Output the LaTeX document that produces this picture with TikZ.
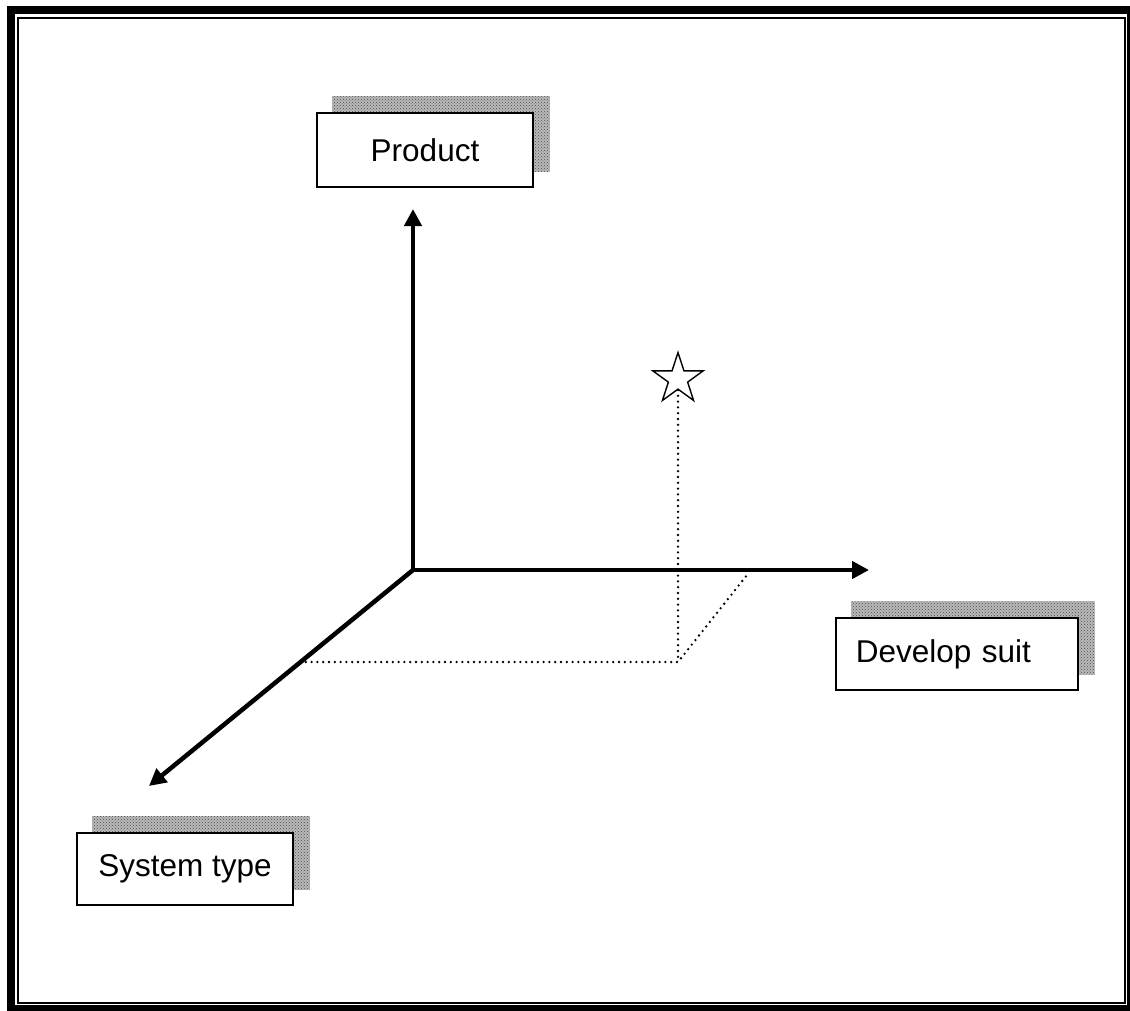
\documentclass[tikz,border=0pt]{standalone}
\usepackage{fontspec}
\setmainfont{Liberation Sans}
\usetikzlibrary{arrows.meta,shapes.geometric,backgrounds,patterns}

\definecolor{shadowgray}{RGB}{185,185,185}

\tikzset{
  axis/.style={line width=4.5pt, -{Triangle[length=17pt,width=17pt]}},
  guide/.style={line width=2.6pt, line cap=round, dash pattern=on 0pt off 5.8pt},
  labelbox/.style={draw, line width=1.6pt, fill=white, inner sep=0pt,
    font=\fontsize{31.5}{37}\selectfont},
  boxshadow/.style={fill=shadowgray},
  frameouter/.style={line width=8pt},
  frameinner/.style={line width=2pt},
}

\begin{document}
\begin{tikzpicture}[x=1pt, y=-1pt]
  \useasboundingbox (0,0) rectangle (1130,1010);

  % double frame
  \draw[frameouter] (11,10) rectangle (1131,1009);
  \draw[frameinner] (18,18) rectangle (1125,1003);

  % axis origin and tips
  \coordinate (O) at (413,570);
  \coordinate (up) at (413,209);
  \coordinate (right) at (869,570);
  \coordinate (down) at (149,786);

  % labels
  \node[labelbox, minimum width=216pt, minimum height=74pt] (prod) at (425,150) {Product};
  \node[labelbox, anchor=west, text width=202pt, inner xsep=20pt, align=left,
        minimum height=72pt] (dev) at (835,654) {Develop suit};
  \node[labelbox, minimum width=216pt, minimum height=72pt] (sys) at (185,869) {System type};

  % offset shadows behind the labels
  \begin{scope}[on background layer]
    \foreach \b in {prod,dev,sys}{
      \fill[boxshadow] ([shift={(16,-16)}]\b.south west) rectangle ([shift={(16,-16)}]\b.north east);
      \fill[pattern=crosshatch dots, pattern color=gray!60!black]
        ([shift={(16,-16)}]\b.south west) rectangle ([shift={(16,-16)}]\b.north east);
    }
  \end{scope}

  % point in the space
  \node[star, star points=5, star point ratio=2.618, draw, line width=1.4pt,
        minimum size=53pt, inner sep=0pt] (pt) at (678,379) {};
  \coordinate (foot) at (678,662);
  \coordinate (onx) at (300,662);
  \coordinate (ony) at (747,575);

  % projection guides
  \draw[guide] (pt.south) -- (foot);
  \draw[guide] (onx) -- (foot) -- (ony);

  % axes
  \draw[axis] (O) -- (up);
  \draw[axis] (O) -- (right);
  \draw[axis] (O) -- (down);
\end{tikzpicture}
\end{document}
